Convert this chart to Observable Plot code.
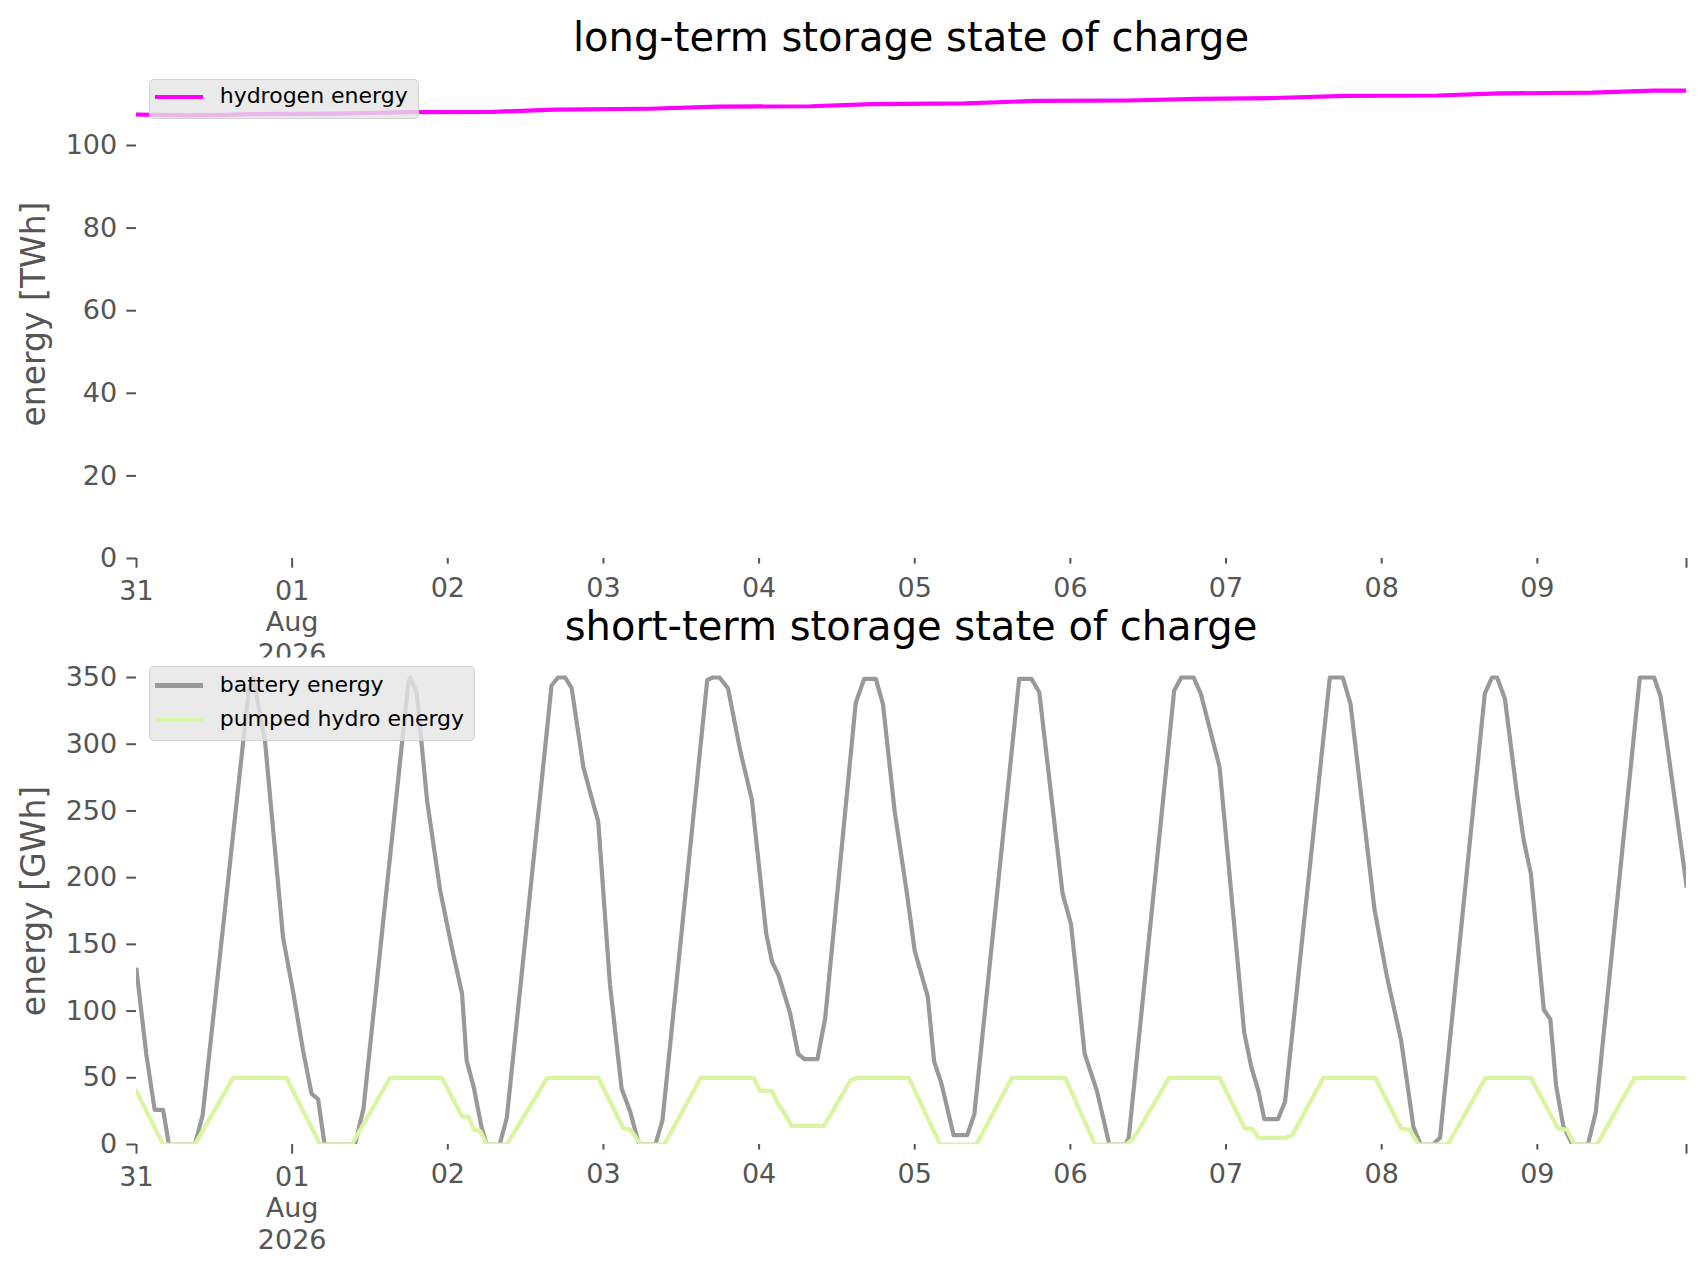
<!DOCTYPE html>
<html><head><meta charset="utf-8">
<script src="https://cdn.jsdelivr.net/npm/d3@7"></script>
<script src="https://cdn.jsdelivr.net/npm/@observablehq/plot@0.6"></script>
<style>
html,body{margin:0;padding:0;background:#fff;}
#fig{position:relative;width:1706px;height:1277px;font-family:"DejaVu Sans";overflow:hidden;background:#fff;}
#fig svg{position:absolute;left:0;background:none !important;}
.title{position:absolute;left:136px;width:1550px;text-align:center;font-size:40px;line-height:40px;color:#000;white-space:nowrap;}
.ylab{position:absolute;font-size:33px;line-height:33px;color:#555;white-space:nowrap;transform:translate(-50%,-50%) rotate(-90deg);}
.legend{position:absolute;left:148.7px;background:rgba(229,229,229,0.8);border:1.4px solid rgba(204,204,204,0.8);border-radius:5px;box-sizing:border-box;}
.item{position:absolute;left:0;height:0;}
.swatch{position:absolute;left:5px;width:48px;height:4.2px;top:-2.1px;}
.ltext{position:absolute;left:70px;font-size:22px;line-height:22px;top:-12px;white-space:nowrap;color:#000;}
</style>
</head><body>
<div id="fig"></div>
<script>
// ---------- data ----------
const startDateUTC = [2026, 6, 31]; // 31 Jul 2026 00:00
const hydrogenHours = [0,7.5,12,18,31,42,55,64.5,79,89.7,104,113.4,127.8,138.6,152.8,163.6,175.5,186.3,200.6,210.2,224.4,234,239];
const hydrogenTWh   = [107.5,107.3,107.35,107.6,107.7,108.1,108.15,108.7,108.9,109.4,109.5,110.0,110.2,110.8,110.9,111.3,111.5,112.0,112.1,112.6,112.8,113.3,113.3];

const batteryHours = [0,1.5,2.8,4.1,5,9,10.2,17.3,18,19.8,22.6,24.2,25.7,27,28,29,33.7,35,41.9,42.2,43.2,44.8,46.8,48.6,50.2,50.9,52,53.2,54,56,57.1,64,65,66.1,67.1,68.9,70,71.2,73,74.8,76.1,77.2,77.6,80,81.1,88,88.8,89.9,91.2,93.1,94.9,97.1,98,99,100.8,102,103,105,106.2,110.9,112.2,114,115.1,116.9,118.8,120,122,123,124.1,126,128.1,129.2,136.1,138,139.2,142.8,144.1,146.2,148.1,150,152.5,153,160,161.1,163,164.1,167,170.8,171.9,173,173.9,176,177.1,184,186,187.2,190.9,192.8,195,196.9,198,199.9,201,207.9,209,209.8,211,212.8,213.9,215,217,218,218.9,220,221.4,223.8,225,231.8,234,235,239];
const batteryGWh = [131,68,26,26,0,0,22,340,350,303,155,113,70,38,34,0,0,27,345,350,339,258,191,148,113,63,43,13,0,0,20,344,350,350,342,283,263,242,120,42,25,5,0,0,18,348,350,350,342,295,258,158,137,127,98,68,64,64,95,331,349,349,330,250,188,145,111,62,46,7,7,23,349,349,339,188,165,68,40,0,0,5,340,350,350,338,283,84,58,40,19,19,32,350,350,330,176,126,78,13,0,0,5,338,350,350,334,265,228,203,101,94,44,14,0,0,24,350,350,336,194];

const pumpedHours = [0,4.1,9,14.9,23.1,28.3,33.2,39.1,47.1,50.2,51.2,52,53,54,57.1,63.3,64,71.2,75.1,76.1,77.8,81.4,87,95.2,96.1,98,98.9,99.7,101,106,110.1,111.1,119.1,123.9,129.5,135,143.2,147.8,152.6,153.6,154.8,159.2,167,170.9,172,173,177.1,178.2,183,191,195,196.3,197.7,202.2,208,215,219.2,220.6,221.7,225.2,231,239];
const pumpedGWh = [40,0,0,50,50,0,0,50,50,21,21,11,10,0,0,49.5,50,50,12,11.4,0,0,50,50,40.5,40,30.5,25,14,14,48,50,50,0,0,50,50,0,0,4,13,50,50,12,12,5,5,7,50,50,12,11,0,0,50,50,12,11,0,0,50,50];

const dayTickHours  = [0,24,48,72,96,120,144,168,192,216,239];
const dayTickLabels = ["31","01\nAug\n2026","02","03","04","05","06","07","08","09",""];
const majorTickHours = [0,24,239];
const topYTicks = [0,20,40,60,80,100];
const bottomYTicks = [0,50,100,150,200,250,300,350];
const seriesNames = ["hydrogen energy","battery energy","pumped hydro energy"];
const seriesColors = ["#ff00ff","#999999","#d9f5a0"];
const titles = ["long-term storage state of charge","short-term storage state of charge"];
const yLabels = ["energy [TWh]","energy [GWh]"];

// ---------- helpers ----------
const t0 = Date.UTC(...startDateUTC);
const toDate = h => new Date(t0 + h * 3600000);
const xDomain = [toDate(dayTickHours[0]), toDate(dayTickHours[dayTickHours.length - 1])];
const series = (hours, vals) => hours.map((h, i) => ({date: toDate(h), value: vals[i]}));
const hydrogen = series(hydrogenHours, hydrogenTWh);
const battery = series(batteryHours, batteryGWh);
const pumped = series(pumpedHours, pumpedGWh);
const labelFor = d => {
  const h = Math.round((d - t0) / 3600000);
  const i = dayTickHours.indexOf(h);
  return i >= 0 ? dayTickLabels[i] : "";
};
const minorTickHours = dayTickHours.filter(h => !majorTickHours.includes(h));
const baseStyle = {fontFamily: "DejaVu Sans", fontSize: "27px", color: "#555", background: "transparent", overflow: "visible"};
const xAxes = () => [
  Plot.axisX({ticks: majorTickHours.map(toDate), tickSize: 9.7, tickPadding: 8.7, tickFormat: labelFor, lineHeight: 1.18, fontSize: 27, strokeWidth: 2, label: null}),
  Plot.axisX({ticks: minorTickHours.map(toDate), tickSize: 5.6, tickPadding: 13.7, tickFormat: labelFor, fontSize: 27, strokeWidth: 2, label: null})
];
const lineOpts = c => ({x: "date", y: "value", stroke: c, strokeWidth: 4.2, strokeLinecap: "square", strokeLinejoin: "round", clip: true});

const fig = document.getElementById("fig");

// top chart
const topChart = Plot.plot({
  width: 1706, height: 680, marginLeft: 136, marginRight: 20, marginTop: 69, marginBottom: 122,
  style: baseStyle,
  x: {type: "utc", domain: xDomain},
  y: {domain: [0, 118.4]},
  marks: [
    Plot.axisY({ticks: topYTicks, tickSize: 9.7, tickPadding: 9.6, strokeWidth: 2, fontSize: 27, label: null}),
    ...xAxes(),
    Plot.line(hydrogen, lineOpts(seriesColors[0]))
  ]
});
topChart.style.top = "0px";
fig.appendChild(topChart);

// bottom chart
const bottomChart = Plot.plot({
  width: 1706, height: 687, marginLeft: 136, marginRight: 20, marginTop: 67, marginBottom: 133,
  style: baseStyle,
  x: {type: "utc", domain: xDomain},
  y: {domain: [0, 365]},
  marks: [
    Plot.frame({fill: "white", stroke: "none"}),
    Plot.axisY({ticks: bottomYTicks, tickSize: 9.7, tickPadding: 9.6, strokeWidth: 2, fontSize: 27, label: null}),
    ...xAxes(),
    Plot.line(battery, lineOpts(seriesColors[1])),
    Plot.line(pumped, lineOpts(seriesColors[2]))
  ]
});
bottomChart.style.top = "590px";
fig.appendChild(bottomChart);

// titles and y labels
function addDiv(cls, text, css) {
  const d = document.createElement("div");
  d.className = cls; d.textContent = text;
  Object.assign(d.style, css);
  fig.appendChild(d);
  return d;
}
addDiv("title", titles[0], {top: "17px"});
addDiv("title", titles[1], {top: "606px"});
addDiv("ylab", yLabels[0], {left: "33px", top: "313.5px"});
addDiv("ylab", yLabels[1], {left: "33px", top: "900.5px"});

// legends
function addLegend(boxTop, height, width, entries) {
  const box = document.createElement("div");
  box.className = "legend";
  Object.assign(box.style, {top: boxTop + "px", height: height + "px", width: width + "px"});
  entries.forEach(([name, color, cy]) => {
    const it = document.createElement("div");
    it.className = "item"; it.style.top = cy + "px";
    const sw = document.createElement("div"); sw.className = "swatch"; sw.style.background = color;
    const tx = document.createElement("div"); tx.className = "ltext"; tx.textContent = name;
    it.appendChild(sw); it.appendChild(tx); box.appendChild(it);
  });
  fig.appendChild(box);
}
addLegend(78.7, 40.5, 270, [[seriesNames[0], seriesColors[0], 17.5]]);
addLegend(666, 75, 326, [[seriesNames[1], seriesColors[1], 18.5], [seriesNames[2], seriesColors[2], 52.8]]);
</script>
</body></html>
